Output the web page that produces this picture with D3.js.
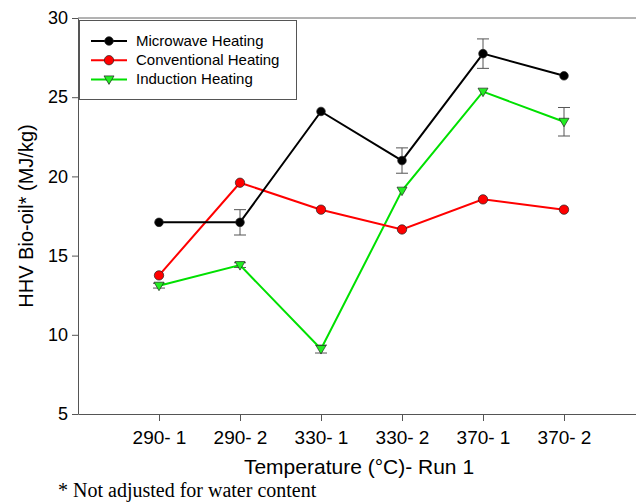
<!DOCTYPE html>
<html>
<head>
<meta charset="utf-8">
<title>HHV Bio-oil</title>
<style>
  html, body { margin: 0; padding: 0; background: #fff; }
  svg { display: block; font-family: "Liberation Sans", Arial, sans-serif; }
</style>
</head>
<body>
<div class="canvas"></div>
<script src="https://d3js.org/d3.v7.min.js"></script>
<script>
var categories = ["290- 1", "290- 2", "330- 1", "330- 2", "370- 1", "370- 2"];
var microwave = [17.1, 17.1, 24.1, 21.0, 27.75, 26.35];
var microwaveErr = [0, 0.8, 0, 0.8, 0.93, 0];
var conventional = [13.75, 19.6, 17.9, 16.65, 18.55, 17.9];
var conventionalErr = [0, 0, 0, 0, 0, 0];
var induction = [13.1, 14.4, 9.1, 19.1, 25.35, 23.45];
var inductionErr = [0.15, 0.15, 0.25, 0, 0, 0.9];
var yTicks = [5, 10, 15, 20, 25, 30];

var width = 636, height = 502;
var plotLeft = 78, plotTop = 18, plotBottom = 414;

var svg = d3.select(".canvas").append("svg")
    .attr("width", width)
    .attr("height", height);

var x = d3.scaleLinear().domain([0, 7]).range([plotLeft, 645]);
var y = d3.scaleLinear().domain([5, 30]).range([plotBottom, plotTop]);

// frame (top line, right side runs off the picture)
svg.append("line")
    .attr("x1", plotLeft).attr("x2", width)
    .attr("y1", plotTop).attr("y2", plotTop)
    .attr("stroke", "#666").attr("stroke-width", 1);

var xAxis = svg.append("g")
    .attr("transform", "translate(0," + plotBottom + ")")
    .call(d3.axisBottom(x)
        .tickValues(d3.range(1, 7))
        .tickFormat(function(d) { return categories[d - 1]; })
        .tickSize(6).tickSizeOuter(0));
xAxis.select(".domain").attr("stroke", "#555");
xAxis.selectAll(".tick line").attr("y2", 7).attr("stroke", "#555");
xAxis.selectAll(".tick text")
    .attr("y", 17)
    .attr("font-size", 19).attr("font-family", "Liberation Sans, Arial, sans-serif")
    .attr("fill", "#000");

var yAxis = svg.append("g")
    .attr("transform", "translate(" + plotLeft + ",0)")
    .call(d3.axisLeft(y).tickValues(yTicks).tickSize(6).tickSizeOuter(0));
yAxis.select(".domain").attr("stroke", "#555");
yAxis.selectAll(".tick line").attr("stroke", "#555");
yAxis.selectAll(".tick text")
    .attr("x", -10)
    .attr("font-size", 18).attr("font-family", "Liberation Sans, Arial, sans-serif")
    .attr("fill", "#000");

var series = [
    {name: "Microwave Heating", values: microwave, err: microwaveErr, color: "#000", fill: "#000", shape: "circle", r: 4.3},
    {name: "Conventional Heating", values: conventional, err: conventionalErr, color: "#ff0000", fill: "#ff0000", shape: "circle", r: 4.7},
    {name: "Induction Heating", values: induction, err: inductionErr, color: "#00e000", fill: "#22ee22", shape: "triangle", r: 5}
];

var line = d3.line()
    .x(function(d, i) { return x(i + 1); })
    .y(function(d) { return y(d); });

function marker(g, s, cx, cy) {
    if (s.shape === "circle") {
        g.append("circle").attr("cx", cx).attr("cy", cy).attr("r", s.r)
            .attr("fill", s.fill).attr("stroke", "#222").attr("stroke-width", 0.7);
    } else {
        var r = s.r;
        g.append("path")
            .attr("d", "M" + (cx - r) + "," + (cy - r * 0.7) + "L" + (cx + r) + "," + (cy - r * 0.7) + "L" + cx + "," + (cy + r) + "Z")
            .attr("fill", s.fill).attr("stroke", "#222").attr("stroke-width", 0.7);
    }
}

// induction at the bottom, microwave on top
[series[2], series[1], series[0]].forEach(function(s) {
    var g = svg.append("g");
    s.err.forEach(function(e, i) {
        if (!e) return;
        var cx = x(i + 1);
        var y1 = y(s.values[i] + e), y2 = y(s.values[i] - e);
        g.append("line").attr("x1", cx).attr("x2", cx).attr("y1", y1).attr("y2", y2)
            .attr("stroke", "#555").attr("stroke-width", 1);
        [y1, y2].forEach(function(yy) {
            g.append("line").attr("x1", cx - 6).attr("x2", cx + 6).attr("y1", yy).attr("y2", yy)
                .attr("stroke", "#555").attr("stroke-width", 1);
        });
    });
    g.append("path").datum(s.values)
        .attr("d", line)
        .attr("fill", "none")
        .attr("stroke", s.color)
        .attr("stroke-width", 2);
    s.values.forEach(function(v, i) { marker(g, s, x(i + 1), y(v)); });
});

// legend
var lg = svg.append("g");
lg.append("rect")
    .attr("x", 79.5).attr("y", 20.5).attr("width", 217).attr("height", 79)
    .attr("fill", "#fff").attr("stroke", "#555").attr("stroke-width", 1);
series.forEach(function(s, i) {
    var yy = 41 + i * 19.2;
    lg.append("line").attr("x1", 91).attr("x2", 127).attr("y1", yy).attr("y2", yy)
        .attr("stroke", s.color).attr("stroke-width", 2);
    marker(lg, s, 109, yy);
    lg.append("text").attr("x", 136).attr("y", yy + 5)
        .attr("font-size", 15).text(s.name);
});

// axis titles
svg.append("text")
    .attr("x", 359).attr("y", 474)
    .attr("text-anchor", "middle")
    .attr("font-size", 21)
    .text("Temperature (°C)- Run 1");

svg.append("text")
    .attr("transform", "translate(33,216) rotate(-90)")
    .attr("text-anchor", "middle")
    .attr("font-size", 20)
    .text("HHV Bio-oil* (MJ/kg)");

svg.append("text")
    .attr("x", 58).attr("y", 497)
    .attr("font-family", "Liberation Serif, Times New Roman, serif")
    .attr("font-size", 20)
    .text("* Not adjusted for water content");
</script>
</body>
</html>
